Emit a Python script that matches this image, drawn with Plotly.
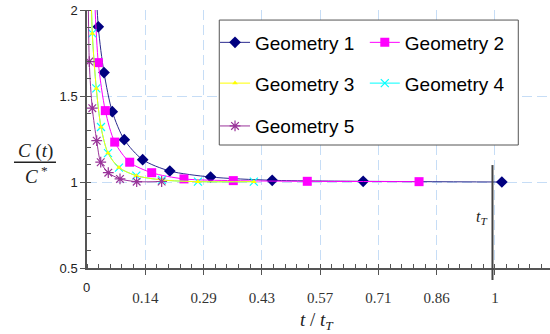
import plotly.graph_objects as go

# ---------------- data ----------------
g1_x = [0.0185, 0.0277, 0.0417, 0.062, 0.0914, 0.1365, 0.203, 0.303, 0.454, 0.677, 1.017]
g1_y = [2.35, 1.902, 1.636, 1.409, 1.246, 1.130, 1.064, 1.029, 1.010, 1.004, 1.000]

g2_x = [0.0185, 0.0277, 0.0449, 0.0679, 0.1047, 0.1586, 0.2377, 0.3586, 0.540, 0.814]
g2_y = [2.08, 1.694, 1.415, 1.232, 1.115, 1.054, 1.018, 1.008, 1.004, 1.002]

g3_x = [0.0087, 0.013, 0.0228, 0.0343, 0.0515, 0.0784, 0.1208, 0.1838, 0.272, 0.409]
g3_y = [2.3, 1.864, 1.544, 1.320, 1.168, 1.084, 1.037, 1.012, 1.002, 1.002]

g4_x = [0.0087, 0.013, 0.0228, 0.0343, 0.0515, 0.0784, 0.1208, 0.1838, 0.272, 0.409]
g4_y = [2.3, 1.864, 1.544, 1.320, 1.168, 1.084, 1.037, 1.012, 1.002, 1.002]

g5_x = [0.002, 0.0056, 0.013, 0.0238, 0.0336, 0.0522, 0.0809, 0.1218, 0.183]
g5_y = [2.6, 1.700, 1.429, 1.240, 1.115, 1.054, 1.018, 1.002, 1.003]

series_names = ["Geometry 1", "Geometry 2", "Geometry 3", "Geometry 4", "Geometry 5"]

x_tickvals = [1/7, 2/7, 3/7, 4/7, 5/7, 6/7, 7/7]
x_ticktext = ["0.14", "0.29", "0.43", "0.57", "0.71", "0.86", "1"]
y_tickvals = [0.5, 1, 1.5, 2]
y_ticktext = ["0.5", "1", "1.5", "2"]

tT_line = 0.994

# ---------------- figure ----------------
sans = "Liberation Sans, Arial, sans-serif"
serif = "Liberation Serif, Times New Roman, serif"

fig = go.Figure()

styles = [
    dict(x=g1_x, y=g1_y, color="#000080", lcolor="#2B2B8F", symbol="diamond", size=9, lw=1, leg="legend"),
    dict(x=g2_x, y=g2_y, color="#FF00FF", lcolor="#FF00FF", symbol="square", size=9, lw=1, leg="legend2"),
    dict(x=g4_x, y=g4_y, color="#00FFFF", lcolor="#00FFFF", symbol="x-thin", size=8, lw=1, leg="legend4", name=3),
    dict(x=g3_x, y=g3_y, color="#FFFF00", lcolor="#FFFF00", symbol="triangle-up", size=5, lw=1, leg="legend3", name=2),
    dict(x=g5_x, y=g5_y, color="#993399", lcolor="#993399", symbol="asterisk", size=9, lw=1, leg="legend5", name=4),
]
name_idx = [0, 1, 3, 2, 4]
for s, ni in zip(styles, name_idx):
    mline = dict(width=1.2, color=s["color"]) if s["symbol"] in ("x-thin", "asterisk") else dict(width=0)
    fig.add_trace(go.Scatter(
        x=s["x"], y=s["y"], name=series_names[ni], mode="lines+markers",
        line=dict(color=s["lcolor"], width=s["lw"], shape="spline", smoothing=0.8),
        marker=dict(symbol=s["symbol"], size=s["size"], color=s["color"], line=mline),
        legend=s["leg"], cliponaxis=True,
    ))

grid_col = "#C6DDF6"
fig.update_xaxes(
    range=[0, 1.135], tickmode="array", tickvals=x_tickvals, ticktext=x_ticktext,
    tickfont=dict(family=serif, size=15, color="#333333"),
    showgrid=True, gridcolor=grid_col, griddash="10px,5px", gridwidth=1,
    showline=True, linecolor="#555555", linewidth=1.5,
    ticks="outside", ticklen=5, tickcolor="#555555", ticklabelstandoff=10,
    minor=dict(tickmode="linear", tick0=0, dtick=1/35, ticks="inside", ticklen=4,
               tickcolor="#555555", showgrid=False),
    zeroline=False,
)
fig.update_yaxes(
    range=[0.5, 2], tickmode="array", tickvals=y_tickvals, ticktext=y_ticktext,
    tickfont=dict(family=sans, size=13, color="#222222"),
    showgrid=True, gridcolor=grid_col, griddash="10px,5px", gridwidth=1,
    showline=True, linecolor="#555555", linewidth=1.5,
    ticks="outside", ticklen=5, tickcolor="#555555",
    minor=dict(tickmode="linear", tick0=0, dtick=0.1, ticks="inside", ticklen=4,
               tickcolor="#555555", showgrid=False),
    zeroline=False,
)

# legend positions (two columns)
leg_font = dict(family=sans, size=19, color="#000000")
leg_pos = {"legend": (0.2765, 0.874), "legend2": (0.600, 0.874),
           "legend3": (0.2765, 0.716), "legend4": (0.600, 0.716),
           "legend5": (0.2765, 0.550)}
leg_layout = {}
for k, (lx, ly) in leg_pos.items():
    leg_layout[k] = dict(x=lx, y=ly, xanchor="left", yanchor="middle",
                         bgcolor="rgba(0,0,0,0)", borderwidth=0, font=leg_font,
                         itemwidth=30)

fig.update_layout(
    width=550, height=334,
    margin=dict(l=87, r=0, t=10, b=66),
    plot_bgcolor="white", paper_bgcolor="white",
    showlegend=True,
    **leg_layout,
)

# legend box
fig.add_shape(type="rect", xref="paper", yref="paper", x0=0.2857, x1=0.9315, y0=0.4767, y1=0.961,
              fillcolor="white", line=dict(color="#555555", width=1), layer="above")

# t_T marker line
fig.add_shape(type="line", xref="x", yref="paper", x0=tT_line, x1=tT_line, y0=-0.0465, y1=0.399,
              line=dict(color="#444444", width=2), layer="above")

# y-label fraction bar
fig.add_shape(type="line", xref="paper", yref="paper", x0=-0.1577, x1=-0.067, y0=0.41, y1=0.41,
              line=dict(color="#222222", width=1.5))

ann = [
    dict(text="<i>C</i> (<i>t</i>)", x=-0.1123, y=0.455, font=dict(family=serif, size=19, color="#222222")),
    dict(text="<i>C</i><sup> *</sup>", x=-0.108, y=0.362, font=dict(family=serif, size=19, color="#222222")),
    dict(text="<i>t</i> / <i>t</i><sub><i>T</i></sub>", x=0.497, y=-0.205, font=dict(family=serif, size=19, color="#222222")),
    dict(text="<i>t</i><sub><i>T</i></sub>", x=0.851, y=0.194, font=dict(family=serif, size=16, color="#222222")),
    dict(text="0", x=-0.002, y=-0.074, font=dict(family=sans, size=13, color="#222222")),
]
for a in ann:
    fig.add_annotation(xref="paper", yref="paper", showarrow=False, xanchor="center", yanchor="middle", **a)

fig.write_html("out.html")
